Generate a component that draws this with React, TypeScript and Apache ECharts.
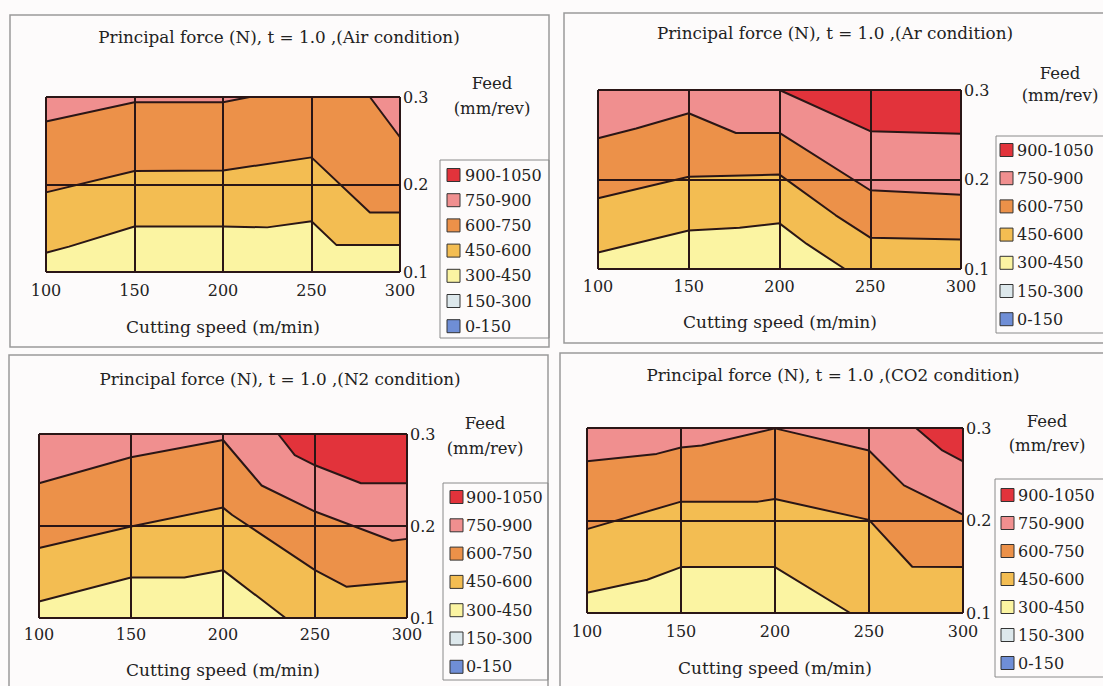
import React, { useEffect, useRef } from "react";
import * as echarts from "echarts";

// ---- data ----
const speedMin = 100;
const speedMax = 300;
const speedStep = 50;
const feedMin = 0.1;
const feedMax = 0.3;
const feedStep = 0.1;

const bandLabels = ["900-1050", "750-900", "600-750", "450-600", "300-450", "150-300", "0-150"];
const contourLevels = [450, 600, 750, 900];

const panelTitles = [
  "Principal force (N), t = 1.0 ,(Air condition)",
  "Principal force (N), t = 1.0 ,(Ar condition)",
  "Principal force (N), t = 1.0 ,(N2 condition)",
  "Principal force (N), t = 1.0 ,(CO2 condition)",
];
const xAxisTitle = "Cutting speed (m/min)";
const yAxisTitle1 = "Feed";
const yAxisTitle2 = "(mm/rev)";

// contour boundaries: [cutting speed, feed] where the force equals the level
const air450 = [[100, 0.122], [113, 0.129], [150, 0.152], [200, 0.152], [225, 0.151], [250, 0.158], [264, 0.131], [300, 0.131]];
const air600 = [[100, 0.191], [150, 0.2155], [200, 0.216], [250, 0.231], [283, 0.168], [300, 0.168]];
const air750 = [[100, 0.272], [150, 0.294], [200, 0.294], [215, 0.3], [283, 0.3], [300, 0.254]];
const air900: number[][] = [];

const ar450 = [[100, 0.1185], [150, 0.143], [178, 0.146], [200, 0.151], [215, 0.128], [236, 0.1], [300, 0.1]];
const ar600 = [[100, 0.179], [150, 0.203], [200, 0.2055], [231, 0.16], [250, 0.135], [300, 0.133]];
const ar750 = [[100, 0.246], [121, 0.257], [150, 0.274], [176, 0.252], [200, 0.252], [250, 0.188], [300, 0.183]];
const ar900 = [[200, 0.3], [250, 0.254], [300, 0.251]];

const n2450 = [[100, 0.118], [150, 0.144], [179, 0.144], [200, 0.152], [234, 0.1], [300, 0.1]];
const n2600 = [[100, 0.176], [150, 0.1995], [200, 0.22], [205, 0.212], [250, 0.152], [267, 0.134], [300, 0.14]];
const n2750 = [[100, 0.2465], [150, 0.2747], [200, 0.2935], [221, 0.244], [250, 0.2157], [292, 0.184], [300, 0.186]];
const n2900 = [[230, 0.3], [239, 0.277], [250, 0.266], [275, 0.2465], [300, 0.2465]];

const co2450 = [[100, 0.122], [132, 0.136], [150, 0.1496], [200, 0.1496], [240, 0.1], [300, 0.1]];
const co2600 = [[100, 0.1907], [150, 0.2204], [191, 0.2204], [200, 0.2232], [250, 0.2007], [273, 0.15], [300, 0.1496]];
const co2750 = [[100, 0.264], [137, 0.272], [150, 0.279], [161, 0.281], [200, 0.2996], [250, 0.2757], [268.6, 0.238], [300, 0.2064]];
const co2900 = [[275, 0.3], [289, 0.2757], [300, 0.264]];

const panelBoundaries = [
  [air450, air600, air750, air900],
  [ar450, ar600, ar750, ar900],
  [n2450, n2600, n2750, n2900],
  [co2450, co2600, co2750, co2900],
];

// ---- styles ----
const bandColors = ["#e2333b", "#f08f8f", "#ec9149", "#f3bd52", "#fbf4a2", "#dde8ec", "#6f8ed6"];
const levelColors = ["#f3bd52", "#ec9149", "#f08f8f", "#e2333b"]; // band above each level
const baseColor = "#fbf4a2";
const lineColor = "#2a1616";
const textColor = "#222";
const FONT = "DejaVu Serif";

const layouts = [
  { box: [10, 15, 539, 332], grid: [46, 97, 354, 175], title: [279, 37], feed: [492, 83, 108], xname: [223, 327], lm: 10,
    legend: { box: [440, 160, 109, 178], sw: 447, tx: 465, y0: 175, dy: 25.2 } },
  { box: [564, 13, 545, 330], grid: [598, 90, 363, 179], title: [835, 33], feed: [1060, 73, 95], xname: [780, 322], lm: 9,
    legend: { box: [996, 136, 110, 197], sw: 1000, tx: 1017, y0: 150, dy: 28.2 } },
  { box: [9, 355, 539, 340], grid: [39, 434, 368, 184], title: [280, 379], feed: [485, 423, 448], xname: [223, 670], lm: 8,
    legend: { box: [443, 483, 105, 197], sw: 450, tx: 466, y0: 497, dy: 28.3 } },
  { box: [560, 353, 550, 340], grid: [587, 428, 376, 185], title: [833, 375], feed: [1047, 421, 445], xname: [775, 668], lm: 10,
    legend: { box: [995, 479, 115, 198], sw: 1001, tx: 1018, y0: 495, dy: 28 } },
];

function txt(x: number, y: number, text: string, size: number, align = "center") {
  return {
    type: "text",
    x,
    y,
    z: 20,
    style: {
      text,
      fill: textColor,
      font: `${size}px "${FONT}"`,
      textAlign: align,
      textVerticalAlign: "middle",
      align,
      verticalAlign: "middle",
    },
  };
}

export default function App() {
  const ref = useRef<HTMLDivElement>(null);
  useEffect(() => {
    if (!ref.current) return;
    const chart = echarts.init(ref.current, undefined, { renderer: "svg" });

    const grid: any[] = [];
    const xAxis: any[] = [];
    const yAxis: any[] = [];
    const series: any[] = [];
    const graphic: any[] = [];

    layouts.forEach((L, i) => {
      grid.push({
        left: L.grid[0], top: L.grid[1], width: L.grid[2], height: L.grid[3],
        show: true, backgroundColor: baseColor, borderWidth: 0,
      });
      xAxis.push({
        gridIndex: i, type: "value", min: speedMin, max: speedMax, interval: speedStep, z: 10,
        axisLine: { show: false }, axisTick: { show: false },
        splitLine: { show: true, lineStyle: { color: lineColor, width: 2 } },
        axisLabel: { margin: L.lm, color: textColor, fontFamily: FONT, fontSize: 16 },
      });
      yAxis.push({
        gridIndex: i, type: "value", position: "right", min: feedMin, max: feedMax, interval: feedStep, z: 10,
        axisLine: { show: false }, axisTick: { show: false },
        splitLine: { show: true, lineStyle: { color: lineColor, width: 2 } },
        axisLabel: { margin: 3, color: textColor, fontFamily: FONT, fontSize: 16, formatter: (v: number) => v.toFixed(1) },
      });
      panelBoundaries[i].forEach((d, k) => {
        series.push({
          type: "line",
          name: `${contourLevels[k]}`,
          xAxisIndex: i, yAxisIndex: i,
          data: d,
          symbol: "none",
          clip: true,
          z: 2 + k,
          lineStyle: { color: lineColor, width: 2 },
          areaStyle: { color: levelColors[k], opacity: 1, origin: "end" },
        });
      });

      graphic.push({
        type: "rect", z: 1,
        shape: { x: L.box[0], y: L.box[1], width: L.box[2], height: L.box[3] },
        style: { fill: "none", stroke: "#9a9a9a", lineWidth: 1.5 },
      });
      graphic.push(txt(L.title[0], L.title[1], panelTitles[i], 16.8));
      graphic.push(txt(L.feed[0], L.feed[1], yAxisTitle1, 16.5));
      graphic.push(txt(L.feed[0], L.feed[2], yAxisTitle2, 16.5));
      graphic.push(txt(L.xname[0], L.xname[1], xAxisTitle, 17));
      const lg = L.legend;
      graphic.push({
        type: "rect", z: 1,
        shape: { x: lg.box[0], y: lg.box[1], width: lg.box[2], height: lg.box[3] },
        style: { fill: "none", stroke: "#8a8a8a", lineWidth: 1 },
      });
      bandLabels.forEach((lab, j) => {
        const cy = lg.y0 + j * lg.dy;
        graphic.push({
          type: "rect", z: 20,
          shape: { x: lg.sw, y: cy - 6.5, width: 13, height: 13 },
          style: { fill: bandColors[j], stroke: "#333", lineWidth: 1 },
        });
        graphic.push(txt(lg.tx, cy, lab, 16, "left"));
      });
    });

    chart.setOption({
      animation: false,
      backgroundColor: "#fdfbfb",
      grid, xAxis, yAxis, series, graphic,
    });
    return () => chart.dispose();
  }, []);
  return <div ref={ref} style={{ position: "fixed", left: 0, top: 0, width: 1103, height: 686 }} />;
}
